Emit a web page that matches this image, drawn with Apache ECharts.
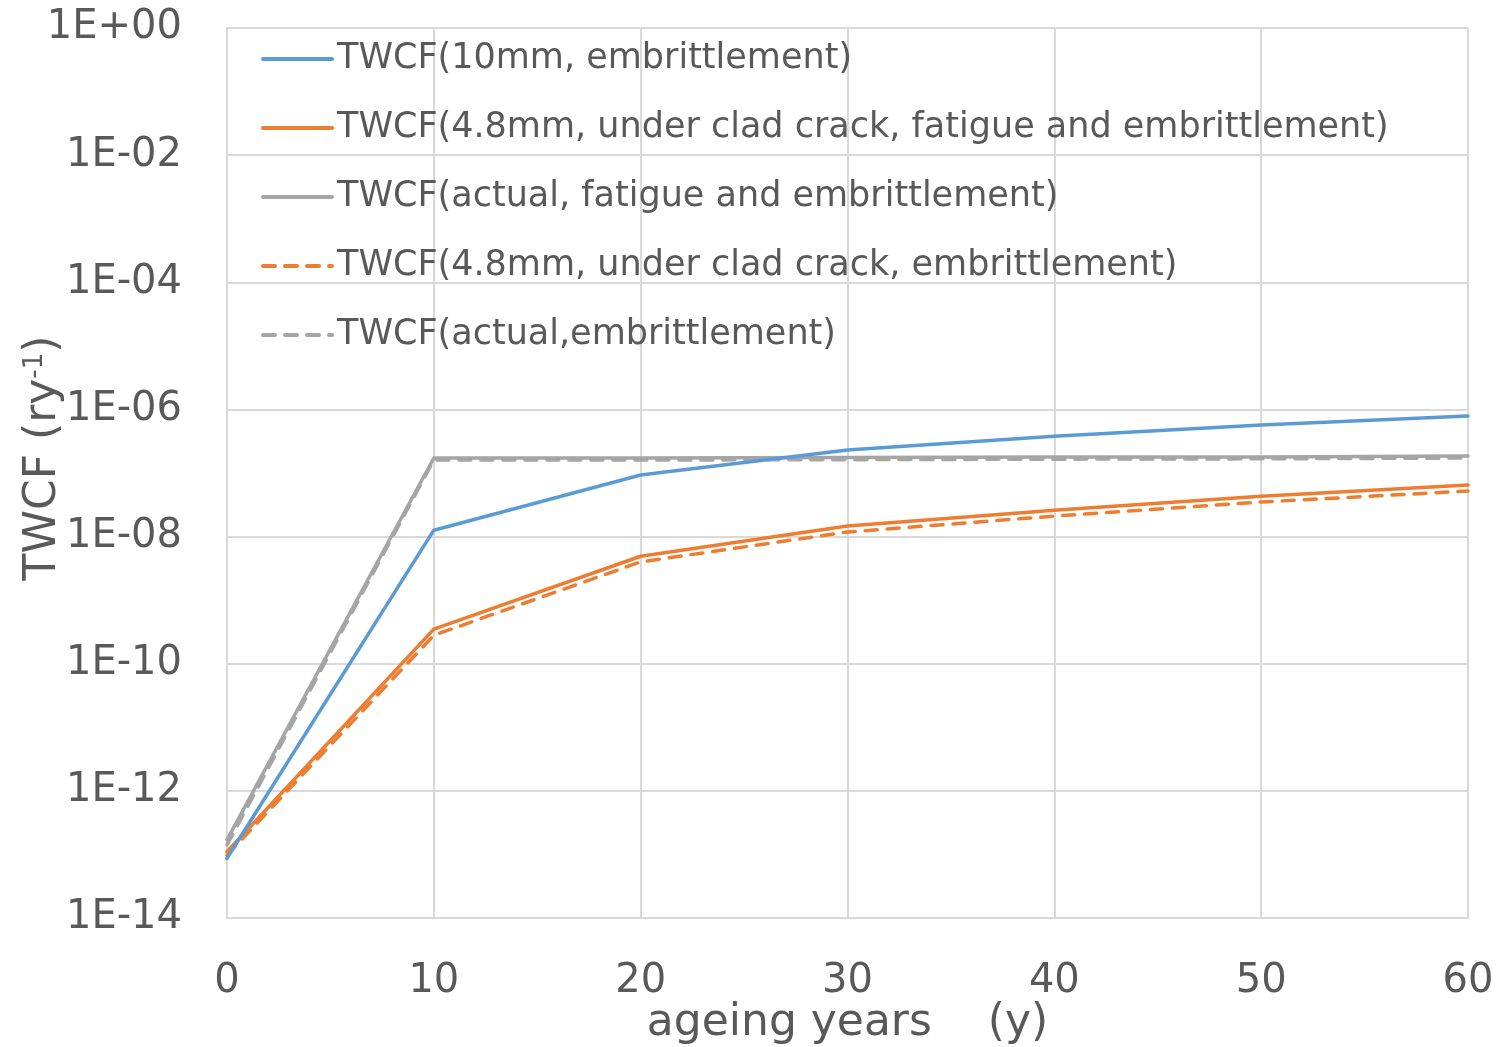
<!DOCTYPE html>
<html><head><meta charset="utf-8">
<script src="https://cdn.jsdelivr.net/npm/echarts@6/dist/echarts.min.js"></script>
<style>html,body{margin:0;padding:0;background:#fff}#c{width:1498px;height:1047px}</style>
</head><body><div id="c"></div>
<script>
const years = [0, 10, 20, 30, 40, 50, 60];
const seriesNames = [
  'TWCF(10mm, embrittlement)',
  'TWCF(4.8mm, under clad crack, fatigue and embrittlement)',
  'TWCF(actual, fatigue and embrittlement)',
  'TWCF(4.8mm, under clad crack, embrittlement)',
  'TWCF(actual,embrittlement)'
];
const twcf10mmEmb = [8.7e-14, 1.26e-8, 9.3e-8, 2.3e-7, 3.8e-7, 5.7e-7, 7.9e-7];
const twcf48FatEmb = [1.1e-13, 3.5e-10, 4.9e-9, 1.47e-8, 2.6e-8, 4.3e-8, 6.5e-8];
const twcfActualFatEmb = [1.69e-13, 1.72e-7, 1.72e-7, 1.75e-7, 1.78e-7, 1.78e-7, 1.85e-7];
const twcf48Emb = [9.8e-14, 2.8e-10, 4.0e-9, 1.18e-8, 2.1e-8, 3.5e-8, 5.2e-8];
const twcfActualEmb = [1.41e-13, 1.6e-7, 1.6e-7, 1.62e-7, 1.65e-7, 1.67e-7, 1.72e-7];

const FONT = 'DejaVu Sans';
const TXT = '#595959';
const pair = arr => years.map((x, i) => [x, arr[i]]);

const colors = ['#5B9BD5', '#ED7D31', '#A5A5A5', '#ED7D31', '#A5A5A5'];
const dashed = [false, false, false, true, true];
const datas = [twcf10mmEmb, twcf48FatEmb, twcfActualFatEmb, twcf48Emb, twcfActualEmb];

const chart = echarts.init(document.getElementById('c'), null, {renderer: 'canvas'});
chart.setOption({
  animation: false,
  backgroundColor: '#fff',
  grid: {left: 227, right: 30, top: 28, bottom: 129, containLabel: false, outerBoundsMode: 'none'},
  legend: {
    orient: 'vertical', left: 261, top: 39, padding: 0,
    itemWidth: 69, itemHeight: 14, itemGap: 29,
    data: seriesNames,
    itemStyle: {opacity: 0},
    lineStyle: {width: 4, cap: 'round'},
    textStyle: {fontFamily: FONT, fontSize: 35, color: TXT, lineHeight: 40}
  },
  xAxis: {
    type: 'value', min: 0, max: 60, interval: 10,
    name: 'ageing years    (y)', nameLocation: 'middle', nameGap: 84, nameMoveOverlap: false,
    nameTextStyle: {fontFamily: FONT, fontSize: 44, color: TXT},
    axisLine: {show: true, lineStyle: {color: '#D9D9D9', width: 2}},
    axisTick: {show: false},
    axisLabel: {fontFamily: FONT, fontSize: 40, color: TXT, margin: 44},
    splitLine: {show: true, lineStyle: {color: '#D9D9D9', width: 2}}
  },
  yAxis: {
    type: 'log', logBase: 10, min: 1e-14, max: 1, interval: 2,
    name: '{a|TWCF (ry}{b|-1}{a|)}', nameLocation: 'middle', nameGap: 161, nameRotate: 90, nameMoveOverlap: false,
    nameTextStyle: {padding: [0, 0, 0, 30], rich: {
      a: {fontFamily: FONT, fontSize: 44, color: TXT},
      b: {fontFamily: FONT, fontSize: 26, color: TXT, verticalAlign: 'top', padding: [0, 0, 16, 0]}
    }},
    axisLine: {show: true, lineStyle: {color: '#D9D9D9', width: 2}},
    axisTick: {show: false},
    axisLabel: {
      fontFamily: FONT, fontSize: 40, color: TXT, margin: 45,
      formatter: v => {
        const e = Math.round(Math.log10(v));
        const a = Math.abs(e);
        return '1E' + (e < 0 ? '-' : '+') + (a < 10 ? '0' + a : '' + a);
      }
    },
    splitLine: {show: true, lineStyle: {color: '#D9D9D9', width: 2}}
  },
  series: seriesNames.map((n, i) => ({
    name: n, type: 'line', data: pair(datas[i]),
    showSymbol: false, symbol: 'none',
    lineStyle: {color: colors[i], width: 3.5, type: dashed[i] ? [12, 10] : 'solid', cap: 'round'},
    itemStyle: {color: colors[i]},
    z: 10 - i
  }))
});
</script></body></html>
